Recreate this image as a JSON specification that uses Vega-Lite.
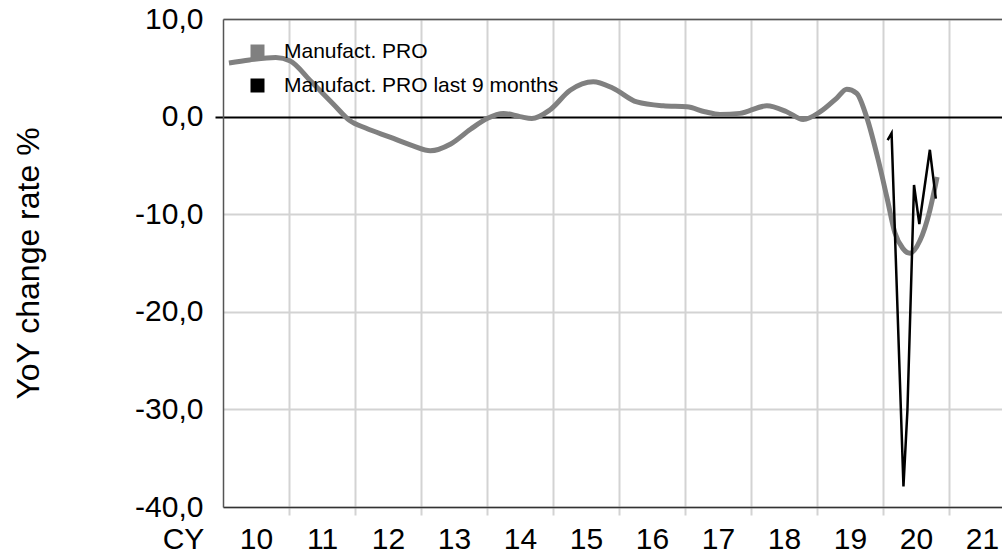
{
  "$schema": "https://vega.github.io/schema/vega-lite/v6.json",
  "width": 779,
  "height": 488,
  "autosize": {"type": "none"},
  "padding": {"left": 223, "top": 19, "right": 0, "bottom": 51},
  "background": "white",
  "config": {"view": {"stroke": null}, "font": "Liberation Sans"},
  "datasets": {
    "pro": [
      {"t": 2010.09, "v": 5.5, "s": "Manufact. PRO"},
      {"t": 2010.4, "v": 5.8, "s": "Manufact. PRO"},
      {"t": 2010.8, "v": 6.05, "s": "Manufact. PRO"},
      {"t": 2011.02, "v": 5.7, "s": "Manufact. PRO"},
      {"t": 2011.32, "v": 3.7, "s": "Manufact. PRO"},
      {"t": 2011.67, "v": 1.3, "s": "Manufact. PRO"},
      {"t": 2011.92, "v": -0.4, "s": "Manufact. PRO"},
      {"t": 2012.17, "v": -1.2, "s": "Manufact. PRO"},
      {"t": 2012.53, "v": -2.1, "s": "Manufact. PRO"},
      {"t": 2012.88, "v": -3.0, "s": "Manufact. PRO"},
      {"t": 2013.14, "v": -3.5, "s": "Manufact. PRO"},
      {"t": 2013.45, "v": -2.8, "s": "Manufact. PRO"},
      {"t": 2013.75, "v": -1.3, "s": "Manufact. PRO"},
      {"t": 2014.0, "v": -0.2, "s": "Manufact. PRO"},
      {"t": 2014.25, "v": 0.33, "s": "Manufact. PRO"},
      {"t": 2014.5, "v": 0.0, "s": "Manufact. PRO"},
      {"t": 2014.68, "v": -0.2, "s": "Manufact. PRO"},
      {"t": 2014.95, "v": 0.67, "s": "Manufact. PRO"},
      {"t": 2015.26, "v": 2.7, "s": "Manufact. PRO"},
      {"t": 2015.61, "v": 3.57, "s": "Manufact. PRO"},
      {"t": 2015.91, "v": 2.9, "s": "Manufact. PRO"},
      {"t": 2016.27, "v": 1.5, "s": "Manufact. PRO"},
      {"t": 2016.67, "v": 1.1, "s": "Manufact. PRO"},
      {"t": 2017.03, "v": 1.0, "s": "Manufact. PRO"},
      {"t": 2017.3, "v": 0.5, "s": "Manufact. PRO"},
      {"t": 2017.53, "v": 0.22, "s": "Manufact. PRO"},
      {"t": 2017.83, "v": 0.33, "s": "Manufact. PRO"},
      {"t": 2018.24, "v": 1.1, "s": "Manufact. PRO"},
      {"t": 2018.54, "v": 0.5, "s": "Manufact. PRO"},
      {"t": 2018.79, "v": -0.3, "s": "Manufact. PRO"},
      {"t": 2019.05, "v": 0.5, "s": "Manufact. PRO"},
      {"t": 2019.3, "v": 1.9, "s": "Manufact. PRO"},
      {"t": 2019.45, "v": 2.8, "s": "Manufact. PRO"},
      {"t": 2019.6, "v": 2.4, "s": "Manufact. PRO"},
      {"t": 2019.75, "v": 0.0, "s": "Manufact. PRO"},
      {"t": 2019.93, "v": -4.5, "s": "Manufact. PRO"},
      {"t": 2020.06, "v": -8.3, "s": "Manufact. PRO"},
      {"t": 2020.18, "v": -11.9, "s": "Manufact. PRO"},
      {"t": 2020.3, "v": -13.5, "s": "Manufact. PRO"},
      {"t": 2020.41, "v": -14.0, "s": "Manufact. PRO"},
      {"t": 2020.56, "v": -12.7, "s": "Manufact. PRO"},
      {"t": 2020.71, "v": -9.6, "s": "Manufact. PRO"},
      {"t": 2020.82, "v": -6.2, "s": "Manufact. PRO"},
      {"t": 2020.07, "v": -2.4, "s": "Manufact. PRO last 9 months"},
      {"t": 2020.13, "v": -1.7, "s": "Manufact. PRO last 9 months"},
      {"t": 2020.31, "v": -37.9, "s": "Manufact. PRO last 9 months"},
      {"t": 2020.37, "v": -30.1, "s": "Manufact. PRO last 9 months"},
      {"t": 2020.47, "v": -7.0, "s": "Manufact. PRO last 9 months"},
      {"t": 2020.55, "v": -11.0, "s": "Manufact. PRO last 9 months"},
      {"t": 2020.71, "v": -3.4, "s": "Manufact. PRO last 9 months"},
      {"t": 2020.8, "v": -8.4, "s": "Manufact. PRO last 9 months"}
    ]
  },
  "data": {"name": "pro"},
  "encoding": {
    "y": {
      "field": "v",
      "type": "quantitative",
      "scale": {"domain": [-40, 10], "nice": false, "zero": false},
      "axis": {
        "title": "YoY change rate %",
        "values": [-40, -30, -20, -10, 0, 10],
        "labelExpr": "replace(replace(format(datum.value, '.1f'), '.', ','), '\u2212', '-')",
        "labelFontSize": 30,
        "labelColor": "black",
        "labelPadding": 12,
        "labelBaseline": "middle",
        "tickSize": 8,
        "tickWidth": 2,
        "tickColor": {"condition": {"test": "datum.value === 0", "value": "black"}, "value": "transparent"},
        "grid": true,
        "gridWidth": 2,
        "gridColor": {"condition": {"test": "datum.value === 0", "value": "black"}, "value": "#d3d3d3"},
        "domainColor": "#555555",
        "domainWidth": 1.5,
        "titleFontSize": 32,
        "titleFontWeight": "normal",
        "titleColor": "black",
        "titleX": -195,
        "titleY": 244,
        "titleAngle": -90,
        "titleBaseline": "middle",
        "titleAlign": "center"
      }
    }
  },
  "layer": [
    {
      "mark": {"type": "point", "shape": "square", "filled": true, "opacity": 0},
      "encoding": {
        "x": {
          "field": "t",
          "type": "quantitative",
          "scale": {"domain": [2010, 2021.803], "nice": false, "zero": false},
          "axis": {"orient": "top", "labels": false, "ticks": false, "grid": false, "title": null, "domainColor": "#555555", "domainWidth": 1.5}
        },
        "color": {
          "field": "s",
          "type": "nominal",
          "scale": {"domain": ["Manufact. PRO", "Manufact. PRO last 9 months"], "range": ["#808080", "#000000"]},
          "legend": {
            "title": null,
            "orient": "none",
            "legendX": 24,
            "legendY": 22,
            "padding": 0,
            "symbolType": "square",
            "symbolSize": 196,
            "symbolOpacity": 1,
            "symbolStrokeWidth": 0,
            "labelFontSize": 21,
            "labelColor": "black",
            "labelOffset": 16,
            "labelLimit": 600,
            "rowPadding": 12
          }
        }
      }
    },
    {
      "transform": [{"filter": "datum.s === 'Manufact. PRO'"}],
      "mark": {"type": "line", "color": "#808080", "strokeWidth": 5, "interpolate": "monotone"},
      "encoding": {
        "x": {
          "field": "t",
          "type": "quantitative",
          "scale": {"domain": [2010, 2021.803], "nice": false, "zero": false},
          "axis": {
            "orient": "bottom",
            "values": [2010, 2011, 2012, 2013, 2014, 2015, 2016, 2017, 2018, 2019, 2020, 2021],
            "labelExpr": "'' + (datum.value % 100)",
            "labelOffset": 33,
            "labelFontSize": 30,
            "labelPadding": 9,
            "labelColor": "black",
            "labelBaseline": "top",
            "labelAlign": "center",
            "labelFlush": false,
            "labelOverlap": false,
            "labelBound": false,
            "tickSize": 8,
            "tickWidth": 2,
            "tickColor": {"condition": {"test": "datum.value === 2010", "value": "transparent"}, "value": "#d3d3d3"},
            "grid": true,
            "gridWidth": 2,
            "gridColor": {"condition": {"test": "datum.value === 2010", "value": "transparent"}, "value": "#d3d3d3"},
            "domainColor": "#333333",
            "domainWidth": 1.5,
            "title": "CY",
            "titleFontSize": 30,
            "titleFontWeight": "normal",
            "titleColor": "black",
            "titleX": -40,
            "titleY": 41,
            "titleAlign": "center",
            "titleBaseline": "alphabetic",
            "titleAngle": 0
          }
        }
      }
    },
    {
      "transform": [{"filter": "datum.s === 'Manufact. PRO last 9 months'"}],
      "mark": {"type": "line", "color": "#000000", "strokeWidth": 2.5},
      "encoding": {
        "x": {
          "field": "t",
          "type": "quantitative",
          "scale": {"domain": [2010, 2021.803], "nice": false, "zero": false},
          "axis": null
        }
      }
    }
  ],
  "resolve": {"axis": {"x": "independent"}}
}
